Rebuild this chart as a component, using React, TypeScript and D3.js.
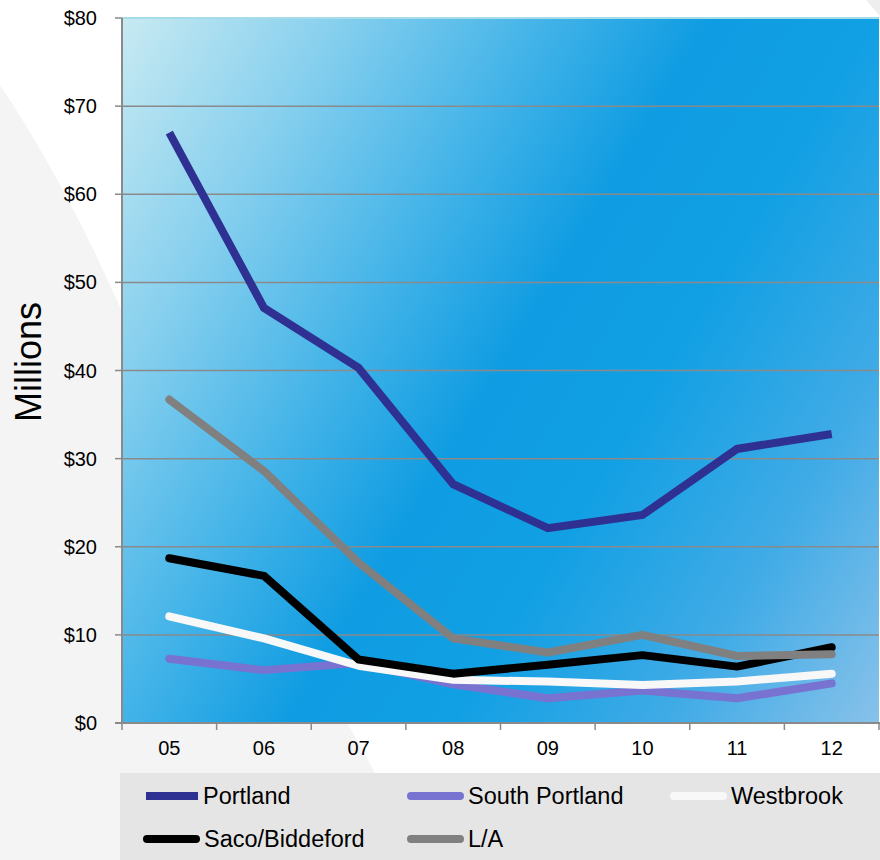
import React from "react";
import * as d3 from "d3";

const years = ["05", "06", "07", "08", "09", "10", "11", "12"];
const portland = [67.0, 47.1, 40.3, 27.1, 22.1, 23.6, 31.1, 32.8];
const southPortland = [7.3, 6.0, 6.8, 4.4, 2.8, 3.7, 2.8, 4.5];
const westbrook = [12.1, 9.6, 6.5, 4.9, 4.7, 4.3, 4.7, 5.6];
const saco = [18.7, 16.7, 7.2, 5.6, 6.6, 7.7, 6.4, 8.6];
const la = [36.7, 28.6, 18.2, 9.6, 8.0, 10.0, 7.6, 7.8];
const yTicks = [0, 10, 20, 30, 40, 50, 60, 70, 80];

const series = [
  { name: "Portland", values: portland, color: "#2e3192", cap: "butt" },
  { name: "South Portland", values: southPortland, color: "#7872d0", cap: "round" },
  { name: "Westbrook", values: westbrook, color: "#f8f8f8", cap: "round" },
  { name: "Saco/Biddeford", values: saco, color: "#000000", cap: "round" },
  { name: "L/A", values: la, color: "#808080", cap: "round" },
];

const W = 880;
const H = 860;
const L = 122;
const R = 879;
const T = 18;
const B = 723;

export default function App() {
  const x = d3.scaleBand<string>().domain(years).range([L, R]);
  const y = d3.scaleLinear().domain([0, 80]).range([B, T]);
  const line = d3
    .line<number>()
    .x((_, i) => (x(years[i]) as number) + x.bandwidth() / 2)
    .y((v) => y(v));
  const font = "'Liberation Sans', Arial, sans-serif";
  const boundaries = years.map((c) => x(c) as number).concat([R]);

  const legendItems = [
    { s: series[0], lx: 146, ly: 796 },
    { s: series[1], lx: 411, ly: 796 },
    { s: series[2], lx: 674, ly: 796 },
    { s: series[3], lx: 147, ly: 839 },
    { s: series[4], lx: 411, ly: 839 },
  ];

  return (
    <svg
      width={W}
      height={H}
      style={{ position: "absolute", left: 0, top: 0, display: "block" }}
      fontFamily={font}
    >
      <defs>
        <linearGradient id="bg" gradientUnits="userSpaceOnUse" x1={L} y1={T} x2={990} y2={539}>
          <stop offset="0" stopColor="#c8eaf2" />
          <stop offset="0.18" stopColor="#88d0ee" />
          <stop offset="0.36" stopColor="#42b3e8" />
          <stop offset="0.5" stopColor="#0f9ce2" />
          <stop offset="0.64" stopColor="#12a0e4" />
          <stop offset="0.82" stopColor="#40abe6" />
          <stop offset="1" stopColor="#88c2ea" />
        </linearGradient>
      </defs>
      <rect x={0} y={0} width={W} height={H} fill="#ffffff" />
      <path d="M0,85 Q70,190 130,330 L375,773 L375,860 L0,860 Z" fill="#f4f4f4" />
      <path d="M866,0 L880,0 L880,16 Z" fill="#eeeeee" />
      {/* plot background */}
      <rect x={L} y={T} width={R - L} height={B - T} fill="url(#bg)" />
      <line x1={L} x2={R} y1={T} y2={T} stroke="#a6dbe8" strokeWidth={2} />
      {/* gridlines */}
      {yTicks.slice(1, -1).map((t) => (
        <line key={t} x1={L} x2={R} y1={y(t)} y2={y(t)} stroke="#8a8a8a" strokeWidth={1.5} />
      ))}
      {/* y axis */}
      <line x1={L} x2={L} y1={T} y2={B} stroke="#8a8a8a" strokeWidth={2} />
      {yTicks.map((t) => (
        <g key={t}>
          <line x1={L - 7} x2={L} y1={y(t)} y2={y(t)} stroke="#8a8a8a" strokeWidth={1.5} />
          <text x={97} y={y(t)} dy="0.35em" textAnchor="end" fontSize={20} fill="#000">
            ${t}
          </text>
        </g>
      ))}
      {/* x axis */}
      <line x1={L - 7} x2={R + 1} y1={B} y2={B} stroke="#8a8a8a" strokeWidth={2} />
      {boundaries.map((bx, i) => (
        <line key={i} x1={bx} x2={bx} y1={B} y2={B + 7} stroke="#8a8a8a" strokeWidth={1.5} />
      ))}
      {years.map((c) => (
        <text
          key={c}
          x={(x(c) as number) + x.bandwidth() / 2}
          y={755}
          textAnchor="middle"
          fontSize={20}
          fill="#000"
        >
          {c}
        </text>
      ))}
      <text
        transform="translate(41,362) rotate(-90)"
        textAnchor="middle"
        fontSize={36}
        fill="#000"
      >
        Millions
      </text>
      {/* series */}
      {series.map((s) => (
        <path
          key={s.name}
          d={line(s.values) as string}
          fill="none"
          stroke={s.color}
          strokeWidth={8}
          strokeLinecap={s.cap as any}
          strokeLinejoin={s.cap === "butt" ? "miter" : "round"}
        />
      ))}
      {/* legend */}
      <rect x={120} y={773} width={W - 120} height={H - 773} fill="#e5e5e5" />
      {legendItems.map(({ s, lx, ly }) => (
        <g key={s.name}>
          <line
            x1={lx}
            x2={s.cap === "butt" ? 198 + (lx - 146) : lx + 49}
            y1={ly}
            y2={ly}
            stroke={s.color}
            strokeWidth={8}
            strokeLinecap={s.cap as any}
          />
          <text x={lx + 57} y={ly} dy="0.36em" fontSize={23.5} fill="#000">
            {s.name}
          </text>
        </g>
      ))}
    </svg>
  );
}
